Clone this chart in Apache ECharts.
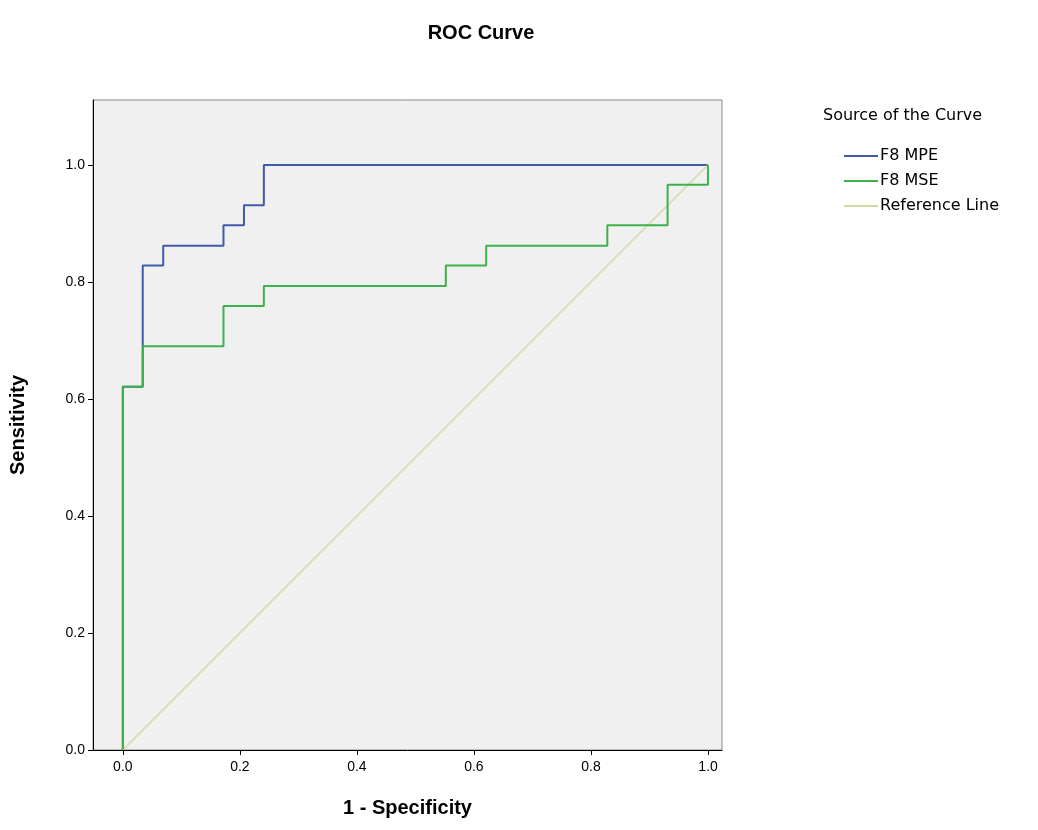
<!DOCTYPE html>
<html><head><meta charset="utf-8">
<script src="https://cdn.jsdelivr.net/npm/echarts@6/dist/echarts.min.js"></script>
<style>html,body{margin:0;padding:0;background:#fff}#c{width:1038px;height:830px}</style>
</head><body><div id="c"></div>
<script>
const xTicks = [0.0, 0.2, 0.4, 0.6, 0.8, 1.0];
const mpeX = [0, 0, 0.034, 0.034, 0.069, 0.069, 0.172, 0.172, 0.207, 0.207, 0.241, 0.241, 1.0];
const mpeY = [0, 0.621, 0.621, 0.828, 0.828, 0.862, 0.862, 0.897, 0.897, 0.931, 0.931, 1.0, 1.0];
const mseX = [0, 0, 0.034, 0.034, 0.172, 0.172, 0.241, 0.241, 0.552, 0.552, 0.621, 0.621, 0.828, 0.828, 0.931, 0.931, 1.0, 1.0];
const mseY = [0, 0.621, 0.621, 0.690, 0.690, 0.759, 0.759, 0.793, 0.793, 0.828, 0.828, 0.862, 0.862, 0.897, 0.897, 0.966, 0.966, 1.0];
const refX = [0, 1];
const refY = [0, 1];
const zip = (a, b) => a.map((v, i) => [v, b[i]]);
const font = 'Liberation Sans, Arial, sans-serif';
const lfont = 'DejaVu Sans, sans-serif';
const chart = echarts.init(document.getElementById('c'));
chart.setOption({
  animation: false,
  title: { text: 'ROC Curve', left: 476, top: 18, textAlign: 'center',
    textStyle: { fontFamily: font, fontSize: 20, fontWeight: 'bold', color: '#000' } },
  grid: { left: 93, top: 100, width: 629, height: 650, backgroundColor: '#F0F0F0', show: true, borderColor: '#888', borderWidth: 1 },
  xAxis: { type: 'value', min: -0.051, max: 1.024, name: '1 - Specificity', nameLocation: 'middle', nameGap: 48,
    nameTextStyle: { fontFamily: font, fontSize: 20, fontWeight: 'bold', color: '#000' },
    axisLine: { onZero: false, lineStyle: { color: '#000' } }, splitLine: { show: false },
    axisTick: { show: true, customValues: xTicks, length: 5, lineStyle: { color: '#000' } },
    axisLabel: { customValues: xTicks, formatter: v => v.toFixed(1), fontFamily: font, fontSize: 14, color: '#000', margin: 10 } },
  yAxis: { type: 'value', min: 0, max: 1.111, name: 'Sensitivity', nameLocation: 'middle', nameGap: 65,
    nameTextStyle: { fontFamily: font, fontSize: 20, fontWeight: 'bold', color: '#000' },
    axisLine: { show: true, onZero: false, lineStyle: { color: '#000' } }, splitLine: { show: false },
    axisTick: { show: true, customValues: xTicks, length: 5, lineStyle: { color: '#000' } },
    axisLabel: { customValues: xTicks, formatter: v => v.toFixed(1), fontFamily: font, fontSize: 14, color: '#000' } },
  legend: { orient: 'vertical', left: 838, top: 143, itemWidth: 34, itemHeight: 12, itemGap: 9,
    itemStyle: { opacity: 0 },
    textStyle: { fontFamily: lfont, fontSize: 16, color: '#000', padding: [0,0,0,-3] },
    data: ['F8 MPE', 'F8 MSE', 'Reference Line'] },
  graphic: [{ type: 'text', left: 823, top: 108, style: { text: 'Source of the Curve', font: '16px ' + lfont, fill: '#000' } }],
  series: [
    { name: 'Reference Line', type: 'line', data: zip(refX, refY), showSymbol: false, lineStyle: { color: '#D5D9A3', width: 1.5 }, itemStyle: { color: '#D5D9A3' } },
    { name: 'F8 MSE', type: 'line', data: zip(mseX, mseY), showSymbol: false, lineStyle: { color: '#3DB24A', width: 2 }, itemStyle: { color: '#3DB24A' } },
    { name: 'F8 MPE', type: 'line', data: zip(mpeX, mpeY), showSymbol: false, lineStyle: { color: '#3F5BA9', width: 2 }, itemStyle: { color: '#3F5BA9' }, z: 1 }
  ]
});
</script></body></html>
